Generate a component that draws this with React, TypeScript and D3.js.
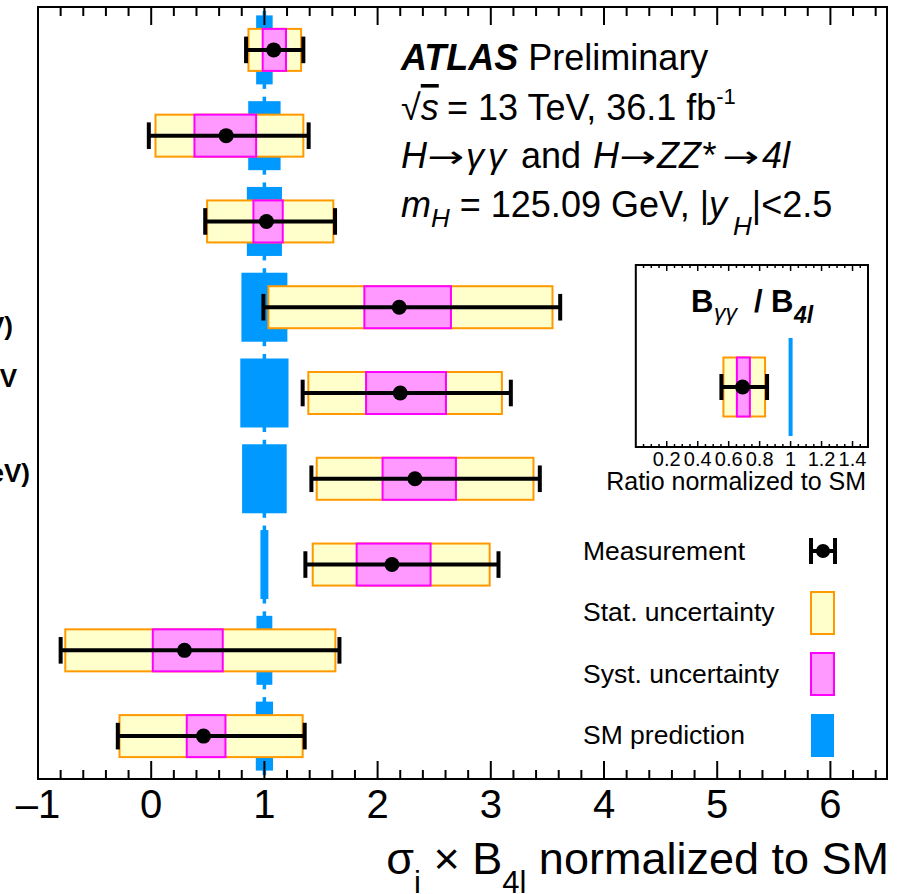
import React from 'react';
import * as d3 from 'd3';

// ---------- data ----------
const categories = [
  'gg→H, 0-jet',
  'gg→H, 1-jet (p_T^H < 60 GeV)',
  'gg→H, 1-jet (60 ≤ p_T^H < 120 GeV)',
  'gg→H, 1-jet (120 ≤ p_T^H < 200 GeV)',
  'gg→H, ≥1-jet, p_T^H ≥ 200 GeV',
  'VBF (p_T^j < 200 GeV)',
  'VBF (p_T^j ≥ 200 GeV)',
  'VH, leptonic',
  'ttH',
];
const visibleLabel = [false, false, false, true, true, true, false, false, false];
const central = [1.082, 0.662, 1.018, 2.191, 2.2, 2.33, 2.127, 0.294, 0.462];
const totLo = [0.838, -0.021, 0.477, 0.991, 1.338, 1.415, 1.362, -0.8, -0.295];
const totHi = [1.344, 1.391, 1.624, 3.613, 3.177, 3.433, 3.068, 1.663, 1.356];
const statLo = [0.859, 0.038, 0.494, 1.035, 1.388, 1.462, 1.427, -0.759, -0.28];
const statHi = [1.324, 1.344, 1.609, 3.545, 3.098, 3.377, 2.99, 1.627, 1.338];
const systLo = [0.985, 0.382, 0.903, 1.883, 1.898, 2.044, 1.815, 0.014, 0.314];
const systHi = [1.191, 0.927, 1.162, 2.648, 2.604, 2.692, 2.468, 0.632, 0.656];
const smUnc = [0.073, 0.143, 0.155, 0.203, 0.213, 0.197, 0.035, 0.07, 0.076];

const ratioCentral = 0.69;
const ratioTot = [0.553, 0.848];
const ratioStat = [0.566, 0.835];
const ratioSyst = [0.653, 0.737];

const xTicksMajor = [-1, 0, 1, 2, 3, 4, 5, 6];
const xTickLabels = ['–1', '0', '1', '2', '3', '4', '5', '6'];
const insetTicks = [0.2, 0.4, 0.6, 0.8, 1, 1.2, 1.4];
const insetTickLabels = ['0.2', '0.4', '0.6', '0.8', '1', '1.2', '1.4'];
const legendItems = ['Measurement', 'Stat. uncertainty', 'Syst. uncertainty', 'SM prediction'];

// ---------- style ----------
const FONT = '"Liberation Sans", Arial, Helvetica, sans-serif';
const YELLOW = '#ffffcc';
const ORANGE = '#ff9900';
const PINK = '#ff99ff';
const MAGENTA = '#ff00ff';
const BLUE = '#0099ff';

const W = 908;
const H = 894;
const frame = { left: 38, right: 887, top: 7, bottom: 779 };

function Arrow({ x, y }: { x: number; y: number }) {
  return (
    <text x={x} y={y - 1} fontFamily='"DejaVu Sans", sans-serif' fontSize={30} textLength={37} lengthAdjust="spacingAndGlyphs">
      →
    </text>
  );
}

export default function App() {
  const x = d3.scaleLinear().domain([-1, 6.5]).range([frame.left, frame.right]);
  const y = d3
    .scaleBand<number>()
    .domain(d3.range(categories.length))
    .range([frame.top, frame.bottom]);
  const yc = (i: number) => (y(i) as number) + y.bandwidth() / 2;

  const minorTicks = d3.range(-1, 6.5001, 0.2).filter((v) => Math.abs(v - Math.round(v)) > 1e-6);

  // inset
  const inset = { left: 635.8, right: 868, top: 265, bottom: 447 };
  const xi = d3.scaleLinear().domain([0, 1.5]).range([inset.left, inset.right]);
  const insetY = 387;
  const insetMinor = d3.range(0.05, 1.5, 0.05).filter((v) => Math.abs(v * 5 - Math.round(v * 5)) > 1e-6);

  const boxH = 21;
  const smH = 34.5;
  const lineH = 39;
  const capH = 13.3;

  // label layout (right edge / baseline offset) for the partly visible labels
  const labelEdge: Record<number, [number, number]> = { 3: [13, 28], 4: [17, -6], 5: [30, 3] };

  return (
    <>
      <style>{'body{margin:0}'}</style>
      <svg width={W} height={H} style={{ display: 'block', fontFamily: FONT }}>
        <rect x={0} y={0} width={W} height={H} fill="white" />

        {/* left category labels (clipped by the page edge) */}
        {categories.map((c, i) =>
          visibleLabel[i] ? (
            <text
              key={'lab' + i}
              x={labelEdge[i][0]}
              y={yc(i) + labelEdge[i][1]}
              textAnchor="end"
              fontSize={26}
              fontWeight="bold"
            >
              {c}
            </text>
          ) : null
        )}

        {/* rows */}
        {categories.map((c, i) => {
          const cy = yc(i);
          return (
            <g key={'row' + i}>
              <line x1={x(1)} x2={x(1)} y1={cy - lineH} y2={cy + lineH} stroke={BLUE} strokeWidth={3.5} />
              <rect
                x={x(1 - smUnc[i])}
                y={cy - smH}
                width={x(1 + smUnc[i]) - x(1 - smUnc[i])}
                height={smH * 2}
                fill={BLUE}
              />
              <rect
                x={x(statLo[i])}
                y={cy - boxH}
                width={x(statHi[i]) - x(statLo[i])}
                height={boxH * 2}
                fill={YELLOW}
                stroke={ORANGE}
                strokeWidth={2}
              />
              <rect
                x={x(systLo[i])}
                y={cy - boxH}
                width={x(systHi[i]) - x(systLo[i])}
                height={boxH * 2}
                fill={PINK}
                stroke={MAGENTA}
                strokeWidth={2}
              />
              <line x1={x(totLo[i])} x2={x(totHi[i])} y1={cy} y2={cy} stroke="black" strokeWidth={4} />
              <line x1={x(totLo[i])} x2={x(totLo[i])} y1={cy - capH} y2={cy + capH} stroke="black" strokeWidth={4} />
              <line x1={x(totHi[i])} x2={x(totHi[i])} y1={cy - capH} y2={cy + capH} stroke="black" strokeWidth={4} />
              <circle cx={x(central[i])} cy={cy} r={7.5} fill="black" />
            </g>
          );
        })}

        {/* frame and ticks */}
        <rect
          x={frame.left}
          y={frame.top}
          width={frame.right - frame.left}
          height={frame.bottom - frame.top}
          fill="none"
          stroke="black"
          strokeWidth={2}
        />
        {xTicksMajor.map((v) => (
          <g key={'mt' + v}>
            <line x1={x(v)} x2={x(v)} y1={frame.bottom} y2={frame.bottom - 18} stroke="black" strokeWidth={2} />
            <line x1={x(v)} x2={x(v)} y1={frame.top} y2={frame.top + 18} stroke="black" strokeWidth={2} />
          </g>
        ))}
        {minorTicks.map((v) => (
          <g key={'mn' + v.toFixed(2)}>
            <line x1={x(v)} x2={x(v)} y1={frame.bottom} y2={frame.bottom - 9} stroke="black" strokeWidth={2} />
            <line x1={x(v)} x2={x(v)} y1={frame.top} y2={frame.top + 9} stroke="black" strokeWidth={2} />
          </g>
        ))}
        {xTicksMajor.map((v, k) => (
          <text key={'tl' + v} x={x(v)} y={818} textAnchor="middle" fontSize={40}>
            {xTickLabels[k]}
          </text>
        ))}

        {/* axis title */}
        <text x={889} y={874} textAnchor="end" fontSize={45}>
          σ<tspan fontSize={31} dy={19}>i</tspan>
          <tspan dy={-19}> × B</tspan>
          <tspan fontSize={31} dy={19}>4l</tspan>
          <tspan dy={-19}> normalized to SM</tspan>
        </text>

        {/* ATLAS text block */}
        <g fontSize={36}>
          <text x={401} y={70}>
            <tspan fontWeight="bold" fontStyle="italic">ATLAS</tspan> Preliminary
          </text>
          <text x={401} y={120}>
            √<tspan fontStyle="italic" style={{ textDecoration: 'overline' }}>s</tspan>
            <tspan x={447}>= 13 TeV, 36.1 fb</tspan>
            <tspan fontSize={22} dy={-16}>-1</tspan>
          </text>
          <text x={401} y={168} fontStyle="italic">H</text>
          <Arrow x={427} y={168} />
          <text x={466} y={168} fontStyle="italic" letterSpacing={4}>γγ</text>
          <text x={521} y={168}>and</text>
          <text x={593} y={168} fontStyle="italic">H</text>
          <Arrow x={619} y={168} />
          <text x={657} y={168} fontStyle="italic">ZZ*</text>
          <Arrow x={722} y={168} />
          <text x={762} y={168} fontStyle="italic">4l</text>
          <text x={401} y={217}>
            <tspan fontStyle="italic">m</tspan>
            <tspan fontStyle="italic" fontSize={26} dy={10}>H</tspan>
            <tspan dy={-10}> = 125.09 GeV, |</tspan>
            <tspan fontStyle="italic">y</tspan>
            <tspan fontStyle="italic" fontSize={26} dy={18} dx={6}>H</tspan>
            <tspan dy={-18}>|&lt;2.5</tspan>
          </text>
        </g>

        {/* inset */}
        <rect x={inset.left} y={inset.top} width={inset.right - inset.left} height={inset.bottom - inset.top} fill="white" stroke="black" strokeWidth={2} />
        {insetTicks.map((v) => (
          <g key={'it' + v}>
            <line x1={xi(v)} x2={xi(v)} y1={inset.bottom} y2={inset.bottom - 6} stroke="black" strokeWidth={1.5} />
            <line x1={xi(v)} x2={xi(v)} y1={inset.top} y2={inset.top + 6} stroke="black" strokeWidth={1.5} />
          </g>
        ))}
        {insetMinor.map((v) => (
          <g key={'im' + v.toFixed(2)}>
            <line x1={xi(v)} x2={xi(v)} y1={inset.bottom} y2={inset.bottom - 3} stroke="black" strokeWidth={1.5} />
            <line x1={xi(v)} x2={xi(v)} y1={inset.top} y2={inset.top + 3} stroke="black" strokeWidth={1.5} />
          </g>
        ))}
        {insetTicks.map((v, k) => (
          <text key={'itl' + v} x={xi(v)} y={466} textAnchor="middle" fontSize={20}>
            {insetTickLabels[k]}
          </text>
        ))}
        <text x={866} y={490} textAnchor="end" fontSize={25}>
          Ratio normalized to SM
        </text>
        <g fontSize={31} fontWeight="bold">
          <text x={691} y={312}>B</text>
          <text x={714} y={320} fontSize={23} fontWeight="normal" fontStyle="italic">γγ</text>
          <text x={754} y={312}>/</text>
          <text x={771} y={312}>B</text>
          <text x={794} y={323} fontSize={23} fontStyle="italic">4l</text>
        </g>
        <line x1={xi(1)} x2={xi(1)} y1={338} y2={436} stroke={BLUE} strokeWidth={4} />
        <rect x={xi(ratioStat[0])} y={insetY - 29.5} width={xi(ratioStat[1]) - xi(ratioStat[0])} height={59} fill={YELLOW} stroke={ORANGE} strokeWidth={2} />
        <rect x={xi(ratioSyst[0])} y={insetY - 29.5} width={xi(ratioSyst[1]) - xi(ratioSyst[0])} height={59} fill={PINK} stroke={MAGENTA} strokeWidth={2} />
        <line x1={xi(ratioTot[0])} x2={xi(ratioTot[1])} y1={insetY} y2={insetY} stroke="black" strokeWidth={4} />
        <line x1={xi(ratioTot[0])} x2={xi(ratioTot[0])} y1={insetY - 13} y2={insetY + 13} stroke="black" strokeWidth={4} />
        <line x1={xi(ratioTot[1])} x2={xi(ratioTot[1])} y1={insetY - 13} y2={insetY + 13} stroke="black" strokeWidth={4} />
        <circle cx={xi(ratioCentral)} cy={insetY} r={7.5} fill="black" />

        {/* legend */}
        {legendItems.map((t, k) => (
          <text key={'lg' + k} x={583} y={560 + k * 61.3} fontSize={26.5}>
            {t}
          </text>
        ))}
        <line x1={810} x2={836} y1={551} y2={551} stroke="black" strokeWidth={4} />
        <line x1={811} x2={811} y1={538} y2={564} stroke="black" strokeWidth={4} />
        <line x1={835} x2={835} y1={538} y2={564} stroke="black" strokeWidth={4} />
        <circle cx={823} cy={551} r={7} fill="black" />
        <rect x={811} y={592} width={23} height={42} fill={YELLOW} stroke={ORANGE} strokeWidth={2} />
        <rect x={811} y={653} width={23} height={42} fill={PINK} stroke={MAGENTA} strokeWidth={2} />
        <rect x={811} y={714} width={23} height={43} fill={BLUE} />
      </svg>
    </>
  );
}
